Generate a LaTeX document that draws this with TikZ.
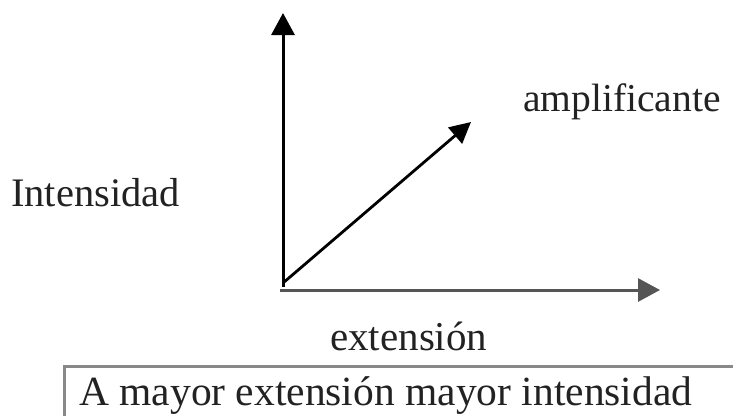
\documentclass[tikz,border=0pt]{standalone}
\usepackage{fontspec}
\setmainfont{Liberation Serif}
\usetikzlibrary{arrows.meta}
\definecolor{txt}{HTML}{222222}
\definecolor{axisgray}{HTML}{555555}
\definecolor{boxgray}{HTML}{888888}
\tikzset{
  lbl/.style={inner sep=0pt, text=txt, anchor=base west},
  axis/.style={line width=3pt, -{Triangle[length=22pt,width=23pt]}},
  boxline/.style={line width=3pt, draw=boxgray}
}
\begin{document}
\begin{tikzpicture}[x=1pt,y=-1pt]
\useasboundingbox (0,0) rectangle (733,415);
\coordinate (o) at (283,287);
\coordinate (ytip) at (283,13);
\coordinate (ho) at (280,290);
\coordinate (xtip) at (660,290);
\coordinate (do) at (283,283);
\coordinate (dtip) at (471,122);
\draw[axis, black] (o) -- (ytip);
\draw[axis, axisgray] (ho) -- (xtip);
\draw[axis, black, line width=2.8pt, -{Triangle[length=21pt,width=21pt]}] (do) -- (dtip);
\node[lbl] (amp) at (523,111) {\fontsize{39.5}{46}\selectfont amplificante};
\node[lbl] (int) at (11,206) {\fontsize{40.5}{48}\selectfont Intensidad};
\node[lbl] (ext) at (330,350) {\fontsize{41}{48}\selectfont extensión};
\coordinate (bl) at (64,440);
\coordinate (tr) at (760,366);
\draw[boxline] (bl) |- (tr);
\node[lbl] (cap) at (79,405) {\fontsize{41.5}{48}\selectfont A mayor extensión mayor intensidad};
\end{tikzpicture}
\end{document}
